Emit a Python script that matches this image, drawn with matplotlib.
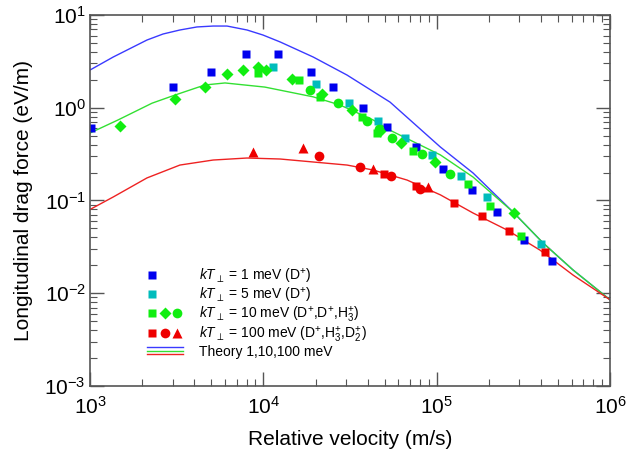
import matplotlib
matplotlib.use('Agg')
import matplotlib.pyplot as plt
from matplotlib.lines import Line2D
from matplotlib.legend_handler import HandlerTuple, HandlerBase

plt.rcParams['font.family'] = ['Liberation Sans', 'DejaVu Sans']
plt.rcParams['mathtext.fontset'] = 'custom'
plt.rcParams['mathtext.rm'] = 'Liberation Sans'
plt.rcParams['mathtext.it'] = 'Liberation Sans:italic'
plt.rcParams['mathtext.bf'] = 'Liberation Sans:bold'

# kT = 1 meV (D+)
v_1 = [1.01e3, 3.0e3, 5.0e3, 7.9e3, 1.22e4, 1.88e4, 2.52e4, 3.76e4, 5.17e4,
       7.6e4, 1.09e5, 1.6e5, 2.23e5, 3.19e5, 4.62e5]
F_1 = [0.605, 1.67, 2.43, 3.80, 3.80, 2.43, 1.67, 0.99, 0.62,
       0.377, 0.219, 0.130, 0.0751, 0.0375, 0.0223]

# kT = 5 meV (D+)
v_5 = [1.14e4, 2.01e4, 3.12e4, 4.59e4, 6.57e4, 9.4e4, 1.38e5, 1.95e5, 4.0e5]
F_5 = [2.75, 1.80, 1.12, 0.72, 0.472, 0.31, 0.184, 0.109, 0.034]

# kT = 10 meV: squares D+, diamonds D+, circles H3+
v_10s = [9.32e3, 1.61e4, 2.12e4, 3.71e4, 4.53e4, 7.3e4, 1.52e5, 2.03e5, 3.07e5]
F_10s = [2.37, 1.99, 1.31, 0.795, 0.534, 0.342, 0.151, 0.0873, 0.0414]
v_10d = [1.49e3, 3.09e3, 4.6e3, 6.17e3, 7.63e3, 9.32e3, 1.04e4, 1.46e4, 2.18e4,
         3.25e4, 4.71e4, 6.22e4, 9.78e4, 2.79e5]
F_10d = [0.635, 1.24, 1.67, 2.31, 2.55, 2.75, 2.55, 2.04, 1.41,
         0.946, 0.561, 0.417, 0.26, 0.0733]
v_10c = [1.86e4, 2.70e4, 3.96e4, 4.65e4, 5.52e4, 8.22e4, 1.19e5]
F_10c = [1.55, 1.12, 0.72, 0.59, 0.472, 0.317, 0.193]

# kT = 100 meV: squares D+, circles H3+, triangles D2+
v_100s = [4.97e4, 7.6e4, 1.26e5, 1.83e5, 2.61e5, 4.22e5]
F_100s = [0.193, 0.143, 0.094, 0.068, 0.0469, 0.0279]
v_100c = [2.09e4, 3.61e4, 5.46e4, 8.02e4]
F_100c = [0.302, 0.230, 0.184, 0.133]
v_100t = [8.71e3, 1.69e4, 4.30e4, 8.91e4]
F_100t = [0.333, 0.368, 0.219, 0.140]

# theory curves
v_th1 = [1e3, 1.36e3, 2.13e3, 2.64e3, 3.3e3, 4.14e3, 5.13e3, 6.17e3, 8.05e3,
         9.95e3, 1.25e4, 1.94e4, 3.04e4, 5.38e4, 1.05e5, 1.62e5, 2.75e5,
         4.11e5, 6.12e5, 1e6]
F_th1 = [2.55, 3.52, 5.37, 6.24, 6.89, 7.43, 7.60, 7.60, 6.89,
         6.08, 5.12, 3.52, 2.25, 1.15, 0.377, 0.198, 0.0755,
         0.0348, 0.0178, 0.0085]
v_th10 = [1e3, 1.45e3, 2.28e3, 3.09e3, 4.6e3, 6.01e3, 1.02e4, 1.94e4, 2.77e4,
          4.30e4, 5.4e4, 1.05e5, 1.62e5, 2.75e5, 4.11e5, 6.12e5, 1e6]
F_th10 = [0.534, 0.738, 1.12, 1.37, 1.76, 1.85, 1.67, 1.31, 1.07,
          0.738, 0.57, 0.31, 0.179, 0.0755, 0.0348, 0.0178, 0.0085]
v_th100 = [1e3, 1.36e3, 2.13e3, 3.3e3, 5.13e3, 8.05e3, 1.25e4, 1.94e4, 3.04e4,
           4.30e4, 6.75e4, 1.05e5, 1.62e5, 2.55e5, 3.94e5, 6.12e5, 1e6]
F_th100 = [0.080, 0.109, 0.175, 0.241, 0.273, 0.287, 0.280, 0.260, 0.241,
           0.213, 0.166, 0.115, 0.0733, 0.048, 0.0292, 0.0157, 0.0085]

c_blue = '#0000ee'
c_cyan = '#00bcbc'
c_green = '#11ee11'
c_red = '#ee0000'

fig = plt.figure(figsize=(6.26, 4.57), dpi=100)
ax = fig.add_axes([0.1438, 0.1554, 0.8307, 0.8118])

l1, = ax.plot(v_th1, F_th1, color='#3a3aff', lw=1.0)
l10, = ax.plot(v_th10, F_th10, color='#33e033', lw=1.0)
l100, = ax.plot(v_th100, F_th100, color='#ee2222', lw=1.0)

ms = 6
h1, = ax.plot(v_1, F_1, 's', color=c_blue, ms=ms, mec='none')
h5, = ax.plot(v_5, F_5, 's', color=c_cyan, ms=ms, mec='none')
h10s, = ax.plot(v_10s, F_10s, 's', color=c_green, ms=ms, mec='none')
h10d, = ax.plot(v_10d, F_10d, 'D', color=c_green, ms=6, mec='none')
h10c, = ax.plot(v_10c, F_10c, 'o', color=c_green, ms=7, mec='none')
h100s, = ax.plot(v_100s, F_100s, 's', color=c_red, ms=ms, mec='none')
h100c, = ax.plot(v_100c, F_100c, 'o', color=c_red, ms=7, mec='none')
h100t, = ax.plot(v_100t, F_100t, '^', color=c_red, ms=7, mec='none')

ax.set_xscale('log')
ax.set_yscale('log')
ax.set_xlim(1e3, 1e6)
ax.set_ylim(1e-3, 1e1)

for sp in ax.spines.values():
    sp.set_color('#555555')
    sp.set_linewidth(1.2)
ax.tick_params(which='both', direction='in', top=True, right=True,
               color='#555555', labelsize=15)
ax.tick_params(which='major', length=10, width=1.0)
ax.tick_params(axis='x', which='major', pad=7)
ax.tick_params(axis='y', which='major', pad=3)
ax.tick_params(which='minor', length=5, width=0.8)

ax.set_xlabel('Relative velocity (m/s)', fontsize=15, labelpad=9)
ax.set_ylabel('Longitudinal drag force (eV/m)', fontsize=15, labelpad=8)


class TheoryHandle:
    def __init__(self, lines):
        self.lines = lines


class HandlerTheory(HandlerBase):
    def create_artists(self, legend, orig_handle, xdescent, ydescent,
                       width, height, fontsize, trans):
        arts = []
        for k, ln in enumerate(orig_handle.lines):
            y = height / 2 - ydescent + (1 - k) * 2.6
            a = Line2D([-xdescent, width - xdescent], [y, y],
                       color=ln.get_color(), lw=1.0)
            a.set_transform(trans)
            arts.append(a)
        return arts


handles = [(h1,), (h5,), (h10s, h10d, h10c), (h100s, h100c, h100t),
           TheoryHandle([l1, l10, l100])]
labels = [r'$kT_{\perp}$ = 1 meV (D$^{+}$)',
          r'$kT_{\perp}$ = 5 meV (D$^{+}$)',
          r'$kT_{\perp}$ = 10 meV (D$^{+}$,D$^{+}$,H$_3^{+}$)',
          r'$kT_{\perp}$ = 100 meV (D$^{+}$,H$_3^{+}$,D$_2^{+}$)',
          'Theory 1,10,100 meV']
ax.legend(handles, labels, loc='upper left', bbox_to_anchor=(0.109, 0.322),
          frameon=False, fontsize=10, handlelength=2.6, handletextpad=1.2,
          labelspacing=0.0, borderpad=0, borderaxespad=0,
          handler_map={tuple: HandlerTuple(ndivide=3, pad=0.15),
                       TheoryHandle: HandlerTheory()})

plt.savefig('out.png', dpi=100)
